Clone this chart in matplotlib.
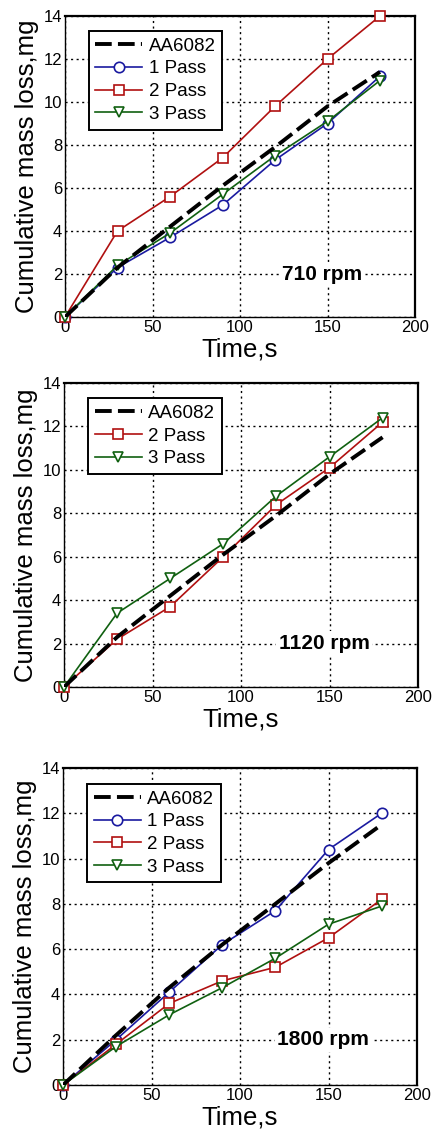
import matplotlib
matplotlib.use("Agg")
import matplotlib.pyplot as plt

plt.rcParams['font.family'] = ['Liberation Sans', 'DejaVu Sans']

time_s = [0, 30, 60, 90, 120, 150, 180]

# 710 rpm
aa_710 = [0, 2.3, 4.2, 6.1, 7.9, 9.8, 11.4]
p1_710 = [0, 2.3, 3.7, 5.2, 7.3, 9.0, 11.2]
p2_710 = [0, 4.0, 5.6, 7.4, 9.8, 12.0, 14.0]
p3_710 = [0, 2.4, 3.9, 5.7, 7.5, 9.1, 11.0]

# 1120 rpm
aa_1120 = [0, 2.3, 4.2, 6.1, 7.9, 9.8, 11.5]
p2_1120 = [0, 2.2, 3.7, 6.0, 8.4, 10.1, 12.2]
p3_1120 = [0, 3.4, 5.0, 6.6, 8.8, 10.6, 12.4]

# 1800 rpm
aa_1800 = [0, 2.2, 4.3, 6.2, 8.0, 9.8, 11.5]
p1_1800 = [0, 2.0, 4.1, 6.2, 7.7, 10.4, 12.0]
p2_1800 = [0, 1.8, 3.6, 4.6, 5.2, 6.5, 8.2]
p3_1800 = [0, 1.7, 3.1, 4.3, 5.6, 7.1, 7.9]

panel_labels = ['710 rpm', '1120 rpm', '1800 rpm']
x_ticks = [0, 50, 100, 150, 200]
y_ticks = [0, 2, 4, 6, 8, 10, 12, 14]

BLUE = '#1a1aa0'
RED = '#b01010'
GREEN = '#106010'

W, H = 432, 1140
fig = plt.figure(figsize=(W / 100, H / 100), dpi=100)

rects = [
    (65, 16, 415, 317),
    (64, 383, 418, 687),
    (63, 768, 417, 1085),
]

panels = [
    [('AA6082', aa_710), ('1 Pass', p1_710), ('2 Pass', p2_710), ('3 Pass', p3_710)],
    [('AA6082', aa_1120), ('2 Pass', p2_1120), ('3 Pass', p3_1120)],
    [('AA6082', aa_1800), ('1 Pass', p1_1800), ('2 Pass', p2_1800), ('3 Pass', p3_1800)],
]

styles = {
    '1 Pass': dict(color=BLUE, marker='o'),
    '2 Pass': dict(color=RED, marker='s'),
    '3 Pass': dict(color=GREEN, marker='v'),
}

for (x0, y0, x1, y1), series, lab in zip(rects, panels, panel_labels):
    ax = fig.add_axes([x0 / W, 1 - y1 / H, (x1 - x0) / W, (y1 - y0) / H])
    for name, vals in series:
        if name == 'AA6082':
            ax.plot(time_s, vals, color='black', lw=2.8, dashes=(4.3, 1.6),
                    label=name, zorder=4)
        else:
            st = styles[name]
            ax.plot(time_s, vals, color=st['color'], lw=1.2, marker=st['marker'],
                    ms=7.5, mfc='white', mec=st['color'], mew=1.2, label=name,
                    zorder=3, clip_on=False)
    ax.set_xlim(0, 200)
    ax.set_ylim(0, 14)
    ax.set_xticks(x_ticks)
    ax.set_yticks(y_ticks)
    ax.grid(True, color='black', linestyle=(0, (1.5, 2.5)), lw=1.0)
    ax.set_axisbelow(True)
    ax.tick_params(axis='both', labelsize=12, length=0, pad=2)
    for s in ['left', 'bottom']:
        ax.spines[s].set_linewidth(1.0)
    for s in ['top', 'right']:
        ax.spines[s].set_linewidth(1.6)
    ax.set_xlabel('Time,s', fontsize=18.5, labelpad=2)
    ax.set_ylabel('Cumulative mass loss,mg', fontsize=18.5, labelpad=3)
    ax.text(147, 2, lab, fontsize=15, fontweight='bold', ha='center', va='center',
            bbox=dict(facecolor='white', edgecolor='none', pad=2), zorder=5)
    leg = ax.legend(loc='upper left', bbox_to_anchor=(0.068, 0.95), fontsize=13.5,
                    frameon=True, fancybox=False, edgecolor='black', framealpha=1,
                    handlelength=2.5, labelspacing=0.3, borderpad=0.35,
                    handletextpad=0.35, borderaxespad=0)
    leg.get_frame().set_linewidth(1.4)

fig.savefig('out.png', dpi=100)
